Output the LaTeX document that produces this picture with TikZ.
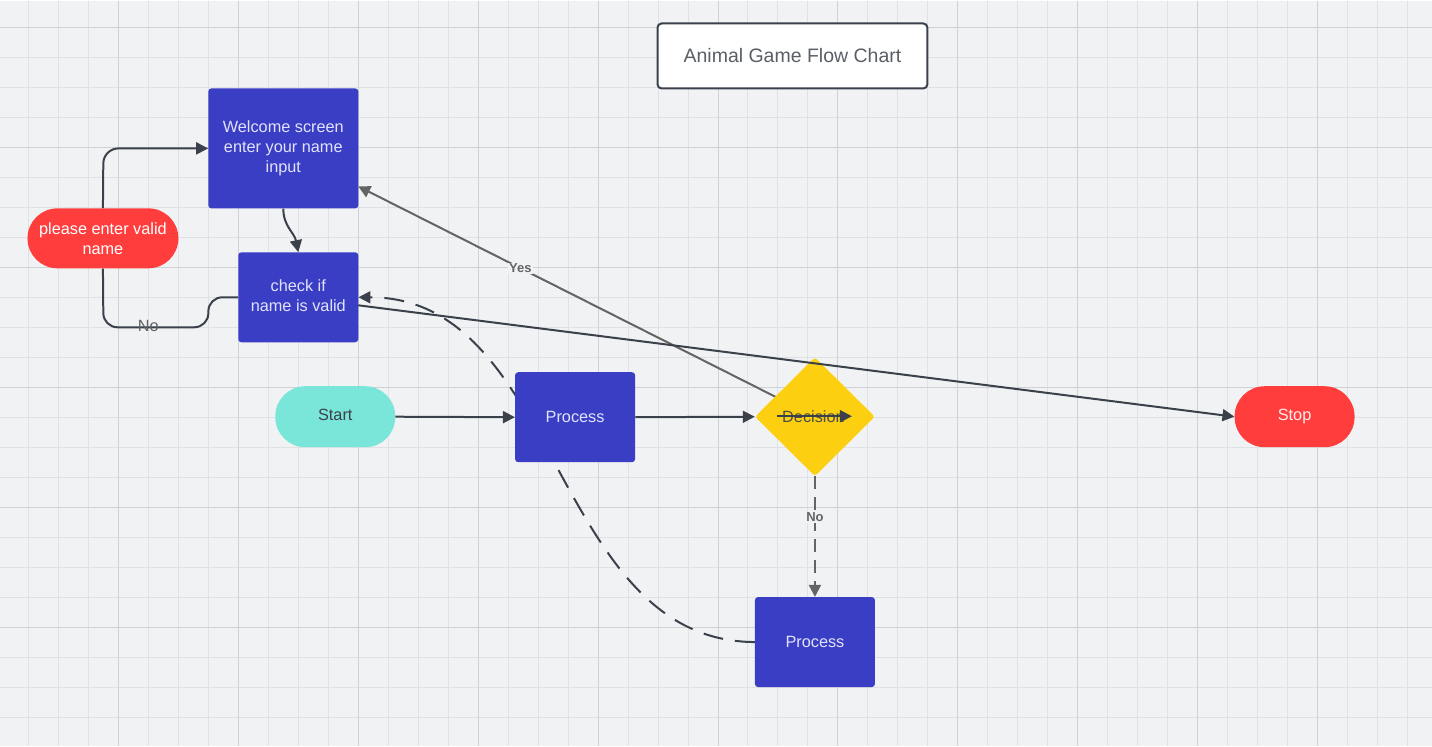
\documentclass[tikz,border=0pt]{standalone}
\usepackage{fontspec}
\setmainfont{Liberation Sans}
\usetikzlibrary{arrows.meta,shapes.geometric}
\definecolor{bgc}{RGB}{241,242,244}
\definecolor{gridminor}{RGB}{224,225,228}
\definecolor{gridmajor}{RGB}{208,209,213}
\definecolor{procblue}{RGB}{58,62,196}
\definecolor{proctext}{RGB}{226,227,250}
\definecolor{termred}{RGB}{255,61,61}
\definecolor{startteal}{RGB}{122,230,217}
\definecolor{decyellow}{RGB}{252,208,16}
\definecolor{darkline}{RGB}{58,65,74}
\definecolor{grayline}{RGB}{100,100,100}
\definecolor{titletext}{RGB}{90,95,102}
\definecolor{labeltext}{RGB}{95,99,104}
\pgfdeclarelayer{gridlayer}
\pgfdeclarelayer{bglayer}
\pgfsetlayers{gridlayer,bglayer,main}
\begin{document}
\begin{tikzpicture}[x=1pt,y=-1pt,
  bodyfont/.style={font=\fontsize{16.3}{20}\selectfont},
  procbox/.style={rectangle,rounded corners=3pt,fill=procblue,text=proctext,bodyfont,align=center,inner sep=0pt,minimum width=120pt,minimum height=90pt},
  termbox/.style={rectangle,rounded corners=30pt,inner sep=0pt,bodyfont,align=center,minimum width=120pt,minimum height=61pt},
  darkconn/.style={draw=darkline,line width=2pt,-{Triangle[length=12pt,width=12pt]}},
  grayconn/.style={draw=grayline,line width=2pt,-{Triangle[length=12pt,width=12pt]}},
  boldlabel/.style={font=\fontsize{13}{15}\bfseries\selectfont,text=grayline,fill=bgc,inner sep=1pt}]
\begin{pgfonlayer}{gridlayer}
  \fill[bgc] (0,0) rectangle (1432,746);
  \foreach \x in {28,58,...,1432} \draw[gridminor,line width=1pt] (\x,0) -- (\x,746);
  \foreach \y in {27,57,...,746} \draw[gridminor,line width=1pt] (0,\y) -- (1432,\y);
  \foreach \x in {118,238,...,1432} \draw[gridmajor,line width=1pt] (\x,0) -- (\x,746);
  \foreach \y in {27,147,...,746} \draw[gridmajor,line width=1pt] (0,\y) -- (1432,\y);
\end{pgfonlayer}
\useasboundingbox (0,0) rectangle (1432,746);

% nodes
\node[rectangle,draw=darkline,line width=2pt,fill=white,rounded corners=4pt,minimum width=270pt,minimum height=65pt,inner sep=0pt,text=titletext,font=\fontsize{19.5}{22}\selectfont] (title) at (792.5,55.5) {Animal Game Flow Chart};
\node[procbox,minimum width=150pt,minimum height=120pt] (wel) at (283,148) {Welcome screen\\enter your name\\input};
\node[procbox] (check) at (298,297) {\raisebox{2pt}[\height][\depth]{\parbox{110pt}{\centering check if\\name is valid}}};
\node[termbox,fill=termred,text=white,minimum width=151pt,minimum height=60pt] (pill) at (102.5,238) {please enter valid\\name};
\node[termbox,fill=startteal,text=darkline] (start) at (335,416.5) {\raisebox{2pt}[\height][\depth]{Start}};
\node[procbox] (p1) at (575,417) {Process};
\node[diamond,fill=decyellow,rounded corners=3pt,inner sep=0pt,minimum width=120pt,minimum height=119pt,text=darkline!90!decyellow,bodyfont] (dec) at (815,416.5) {\hspace*{-3pt}Decision};
\node[procbox] (p2) at (815,642) {Process};
\node[termbox,fill=termred,text=white!92!termred] (stop) at (1295,416.5) {Stop};

\coordinate (welyes) at (358,186);
\coordinate (checkout) at (358,305);
\coordinate (decin) at (777,416);
\coordinate (decout) at (852,416);

% connectors under the nodes
\begin{pgfonlayer}{bglayer}
  \draw[darkconn,dash pattern=on 20pt off 12pt] (p2.west) .. controls (552,641) and (561,297) .. (check.east);
  \draw[grayconn] (dec.center) -- (welyes) node[boldlabel,pos=0.645] {Yes};
\end{pgfonlayer}

% connectors over the nodes
\draw[darkconn] (start.east) -- (p1.west);
\draw[darkconn] (p1.east) -- (dec.west);
\draw[darkconn] (decin) -- (decout);
\draw[darkconn] (checkout) -- (stop.west);
\draw[darkconn] (wel.south) .. controls (283,226) and (294,232) .. (check.north);
\draw[grayconn,dash pattern=on 13pt off 8pt] (dec.south) -- (p2.north) node[boldlabel,pos=0.34] {No};
\draw[draw=darkline,line width=2pt,rounded corners=14pt] (check.west) -- (208,297) -- (208,327) -- (103,327) -- (pill.south);
\node[text=labeltext,bodyfont,inner sep=0pt] (nolabel) at (148,326) {No};
\draw[darkconn,rounded corners=15pt] (pill.north) -- (103,148) -- (wel.west);
\end{tikzpicture}
\end{document}
